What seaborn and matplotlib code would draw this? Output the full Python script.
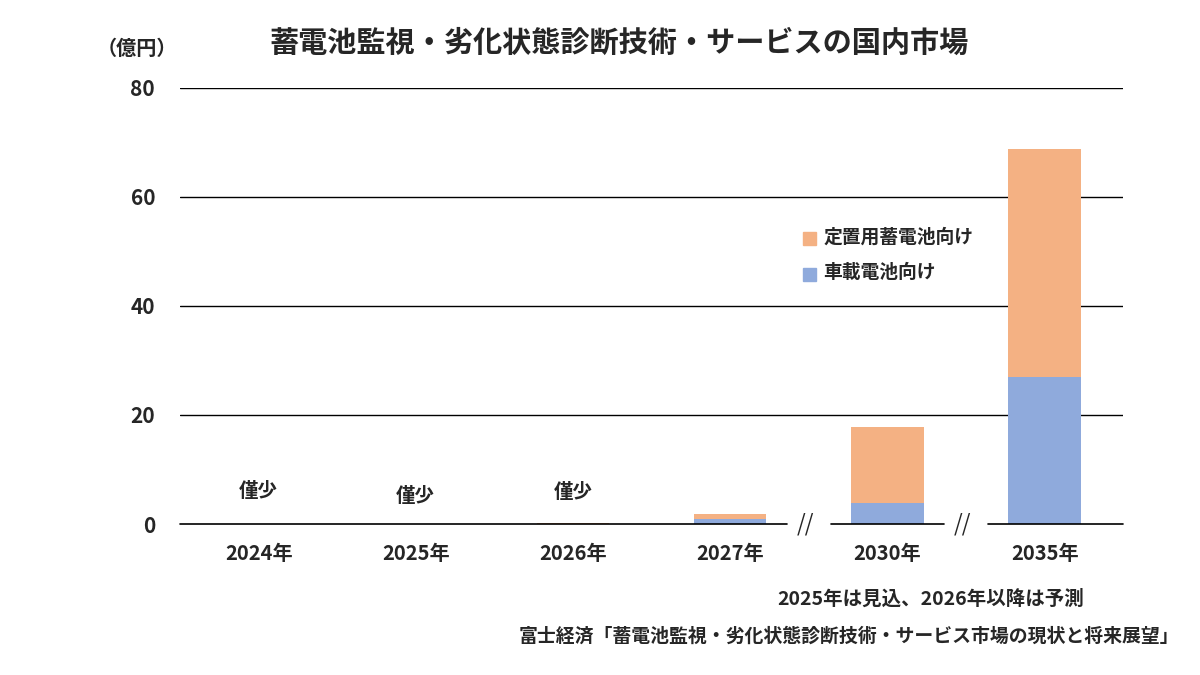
import numpy as np
import pandas as pd
import matplotlib
matplotlib.use('Agg')
import matplotlib.pyplot as plt
import seaborn as sns

sns.set_style('white')
plt.rcParams['font.family'] = ['Noto Sans CJK JP', 'DejaVu Sans']

#%% DATA
years = ['2024年', '2025年', '2026年', '2027年', '2030年', '2035年']
vehicle = [0.0, 0.0, 0.0, 0.9, 3.9, 27.0]        # 車載電池向け
stationary = [0.0, 0.0, 0.15, 1.0, 13.9, 41.8]   # 定置用蓄電池向け
small_labels = ['僅少', '僅少', '僅少', '', '', '']
small_label_y = [5.9, 5.1, 5.7, 0, 0, 0]

orange = '#F4B183'
blue = '#8FAADC'

df = pd.DataFrame({'year': years, 'vehicle': vehicle, 'stationary': stationary})
df['total'] = df['vehicle'] + df['stationary']

#%% PLOT
fig = plt.figure(figsize=(12, 6.75), dpi=100)
ax = fig.add_axes([0.15, 0.2237, 0.786, 0.646])

sns.barplot(data=df, x='year', y='total', color=orange, width=0.46,
            saturation=1, linewidth=0, ax=ax, zorder=3)
sns.barplot(data=df, x='year', y='vehicle', color=blue, width=0.46,
            saturation=1, linewidth=0, ax=ax, zorder=4)

ax.set_xlim(-0.5, 5.5)
ax.set_ylim(0, 80)
ax.set_yticks([0, 20, 40, 60, 80])
for v in [20, 40, 60, 80]:
    ax.axhline(v, color='black', lw=1, zorder=1)

# broken baseline
for x0, x1 in [(-0.5, 3.36), (3.64, 4.36), (4.64, 5.5)]:
    ax.plot([x0, x1], [0, 0], color='black', lw=1.2, zorder=5, clip_on=False)
for xb in [3.5, 4.5]:
    ax.text(xb - 0.02, 0, '//', ha='center', va='center', fontsize=16,
            style='italic', zorder=6)

for i, lab in enumerate(small_labels):
    if lab:
        ax.text(i, small_label_y[i], lab, ha='center', va='center',
                fontsize=14, fontweight='bold')

sns.despine(ax=ax, left=True, bottom=True)
ax.set_xlabel('')
ax.set_ylabel('')
ax.tick_params(axis='x', length=0, labelsize=14.5, pad=14)
ax.tick_params(axis='y', length=0, labelsize=15, pad=18)
for t in ax.get_xticklabels() + ax.get_yticklabels():
    t.set_fontweight('bold')

# legend
fig.patches.append(plt.Rectangle((0.669, 0.637), 0.011, 0.019, color=orange,
                                 transform=fig.transFigure, figure=fig))
fig.patches.append(plt.Rectangle((0.669, 0.584), 0.011, 0.019, color=blue,
                                 transform=fig.transFigure, figure=fig))
fig.text(0.686, 0.649, '定置用蓄電池向け', fontsize=13.5, fontweight='bold', va='center')
fig.text(0.686, 0.597, '車載電池向け', fontsize=13.5, fontweight='bold', va='center')

fig.text(0.516, 0.937, '蓄電池監視・劣化状態診断技術・サービスの国内市場',
         ha='center', va='center', fontsize=21, fontweight='bold')
fig.text(0.114, 0.928, '（億円）', ha='center', va='center', fontsize=14.5,
         fontweight='bold')
fig.text(0.903, 0.113, '2025年は見込、2026年以降は予測', ha='right', va='center',
         fontsize=14, fontweight='bold')
fig.text(0.983, 0.057, '富士経済「蓄電池監視・劣化状態診断技術・サービス市場の現状と将来展望」',
         ha='right', va='center', fontsize=13.6, fontweight='bold')

fig.savefig('out.png', dpi=100)
